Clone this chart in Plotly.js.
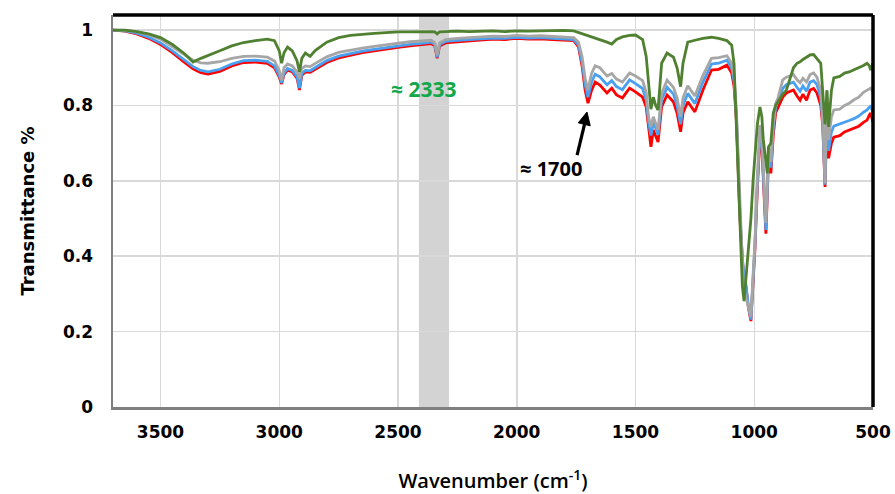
<!DOCTYPE html>
<html>
<head>
<meta charset="utf-8">
<script src="https://cdn.plot.ly/plotly-3.0.1.min.js"></script>
<style>html,body{margin:0;padding:0;background:#fff;}#chart{width:895px;height:494px;}</style>
</head>
<body>
<div id="chart"></div>
<script>
// Wavenumber (cm-1), shared by all four spectra
const wavenumber = [3700,3650,3600,3550,3500,3450,3400,3363,3330,3300,
  3250,3200,3150,3100,3050,3020,3000,2990,2980,2965,
  2945,2925,2915,2905,2890,2870,2850,2800,2750,2700,
  2650,2600,2550,2500,2450,2400,2360,2345,2335,2325,
  2300,2250,2200,2150,2100,2050,2000,1950,1900,1850,
  1800,1760,1740,1725,1712,1700,1685,1670,1650,1620,
  1600,1580,1555,1525,1500,1470,1455,1445,1435,1425,
  1415,1405,1390,1367,1340,1325,1310,1300,1280,1250,
  1216,1180,1150,1115,1095,1085,1075,1068,1060,1050,
  1043,1035,1025,1014,1005,997,987,976,968,962,
  951,945,940,930,920,910,900,880,865,850,
  835,820,807,795,780,765,750,736,720,712,
  702,697,694,687,675,665,640,620,600,580,
  560,540,525,515,510,500];

const redT = [1.000,0.997,0.990,0.978,0.962,0.940,0.915,0.897,0.887,0.883,
  0.890,0.905,0.914,0.915,0.912,0.900,0.875,0.857,0.882,0.894,
  0.889,0.872,0.841,0.880,0.889,0.888,0.895,0.914,0.926,0.934,
  0.940,0.945,0.950,0.954,0.958,0.961,0.964,0.958,0.925,0.958,
  0.966,0.969,0.971,0.974,0.976,0.975,0.978,0.976,0.977,0.975,
  0.974,0.972,0.955,0.905,0.840,0.806,0.840,0.862,0.854,0.833,
  0.846,0.828,0.820,0.846,0.836,0.822,0.796,0.740,0.690,0.735,
  0.720,0.703,0.796,0.828,0.809,0.780,0.730,0.780,0.810,0.783,
  0.841,0.894,0.896,0.907,0.886,0.850,0.760,0.640,0.500,0.390,
  0.340,0.320,0.265,0.228,0.330,0.420,0.580,0.716,0.690,0.600,
  0.460,0.560,0.660,0.620,0.720,0.780,0.795,0.822,0.833,0.838,
  0.841,0.825,0.814,0.830,0.814,0.841,0.845,0.833,0.800,0.750,
  0.584,0.700,0.727,0.660,0.700,0.716,0.720,0.730,0.735,0.740,
  0.745,0.755,0.761,0.775,0.780,0.755];

const blueT = [1.000,0.998,0.992,0.981,0.966,0.945,0.921,0.903,0.893,0.889,
  0.896,0.910,0.919,0.920,0.917,0.905,0.880,0.860,0.886,0.898,
  0.893,0.876,0.846,0.885,0.893,0.892,0.900,0.919,0.931,0.938,
  0.944,0.949,0.954,0.958,0.962,0.965,0.968,0.962,0.928,0.962,
  0.970,0.973,0.975,0.977,0.979,0.978,0.981,0.979,0.980,0.978,
  0.977,0.975,0.960,0.915,0.855,0.822,0.862,0.883,0.876,0.855,
  0.866,0.850,0.842,0.868,0.858,0.845,0.815,0.755,0.720,0.755,
  0.740,0.722,0.815,0.848,0.830,0.800,0.750,0.800,0.832,0.805,
  0.862,0.910,0.912,0.920,0.900,0.865,0.770,0.650,0.505,0.395,
  0.345,0.325,0.268,0.232,0.340,0.430,0.595,0.730,0.705,0.615,
  0.470,0.575,0.675,0.635,0.740,0.795,0.810,0.845,0.855,0.858,
  0.862,0.848,0.838,0.852,0.838,0.862,0.866,0.855,0.820,0.760,
  0.590,0.720,0.760,0.680,0.730,0.745,0.750,0.755,0.760,0.765,
  0.772,0.782,0.788,0.796,0.798,0.782];

const grayT = [1.000,0.999,0.995,0.988,0.976,0.956,0.935,0.920,0.913,0.912,
  0.916,0.925,0.930,0.931,0.928,0.918,0.893,0.866,0.900,0.910,
  0.905,0.888,0.872,0.898,0.905,0.903,0.911,0.929,0.941,0.947,
  0.952,0.957,0.961,0.966,0.969,0.971,0.973,0.966,0.933,0.966,
  0.975,0.978,0.980,0.982,0.984,0.983,0.986,0.984,0.985,0.983,
  0.982,0.980,0.968,0.930,0.872,0.841,0.885,0.905,0.900,0.878,
  0.885,0.870,0.862,0.886,0.878,0.866,0.835,0.770,0.743,0.770,
  0.752,0.735,0.832,0.867,0.848,0.820,0.770,0.820,0.852,0.825,
  0.880,0.925,0.927,0.932,0.912,0.878,0.785,0.660,0.510,0.380,
  0.310,0.290,0.265,0.240,0.350,0.440,0.610,0.748,0.720,0.630,
  0.488,0.590,0.690,0.650,0.750,0.805,0.820,0.868,0.875,0.878,
  0.882,0.868,0.860,0.872,0.862,0.882,0.886,0.875,0.840,0.770,
  0.594,0.780,0.840,0.708,0.770,0.788,0.790,0.800,0.806,0.815,
  0.822,0.835,0.841,0.846,0.846,0.835];

const greenT = [1.000,1.000,0.996,0.990,0.980,0.962,0.938,0.915,0.925,0.932,
  0.945,0.958,0.967,0.972,0.976,0.972,0.945,0.912,0.940,0.955,
  0.945,0.918,0.889,0.925,0.939,0.930,0.945,0.968,0.980,0.986,
  0.989,0.991,0.993,0.995,0.995,0.996,0.996,0.995,0.990,0.995,
  0.996,0.997,0.996,0.998,0.998,0.996,0.998,0.997,0.998,0.998,
  0.999,0.998,0.994,0.990,0.988,0.985,0.982,0.980,0.976,0.968,
  0.963,0.975,0.982,0.986,0.987,0.975,0.930,0.849,0.790,0.822,
  0.800,0.788,0.912,0.939,0.928,0.900,0.850,0.912,0.968,0.973,
  0.978,0.981,0.978,0.972,0.960,0.910,0.727,0.600,0.450,0.320,
  0.281,0.337,0.410,0.500,0.600,0.663,0.750,0.796,0.770,0.710,
  0.640,0.620,0.690,0.700,0.780,0.800,0.810,0.830,0.840,0.870,
  0.900,0.912,0.916,0.922,0.928,0.934,0.935,0.925,0.912,0.840,
  0.750,0.800,0.840,0.743,0.840,0.873,0.877,0.886,0.889,0.895,
  0.900,0.906,0.912,0.905,0.894,0.912];

const xTicks = [3500,3000,2500,2000,1500,1000,500];
const yTicks = [0,0.2,0.4,0.6,0.8,1];
const yTickText = ['0','0.2','0.4','0.6','0.8','1'];

const series = [
  {name:'red',  y:redT,  color:'#ff0000'},
  {name:'blue', y:blueT, color:'#4aa0f0'},
  {name:'gray', y:grayT, color:'#a6a6a6'},
  {name:'green',y:greenT,color:'#4f8131'}
];

const traces = series.map(s => ({
  type:'scatter', mode:'lines', x:wavenumber, y:s.y, name:s.name,
  line:{color:s.color, width:2.8}, hoverinfo:'skip'
}));

const tickFont = {family:'DejaVu Sans, Verdana, sans-serif', size:17, color:'#000', weight:'bold'};

const layout = {
  width:895, height:494,
  margin:{l:113, r:22, t:15, b:87},
  paper_bgcolor:'#fff', plot_bgcolor:'#fff',
  showlegend:false,
  xaxis:{
    range:[3700,500], tickvals:xTicks, ticktext:xTicks.map(String),
    showgrid:true, gridcolor:'#d9d9d9', gridwidth:1.5,
    zeroline:false, showline:true, linecolor:'#7f7f7f', linewidth:2.5,
    ticks:'', tickfont:tickFont, ticklabelstandoff:8,
    title:{text:'Wavenumber (cm<sup>-1</sup>)', standoff:36,
      font:{family:'Open Sans, sans-serif', size:20, color:'#000', weight:600}}
  },
  yaxis:{
    range:[0,1.04], tickvals:yTicks, ticktext:yTickText,
    showgrid:true, gridcolor:'#d9d9d9', gridwidth:1.5,
    zeroline:false, showline:true, linecolor:'#7f7f7f', linewidth:2.5,
    ticks:'', tickfont:tickFont, ticklabelstandoff:14,
    title:{text:'Transmittance %', standoff:24,
      font:{family:'DejaVu Sans, Verdana, sans-serif', size:18, color:'#000', weight:'bold'}}
  },
  shapes:[
    {type:'rect', xref:'x', yref:'paper', x0:2412, x1:2285, y0:0, y1:1,
     fillcolor:'#d3d3d3', line:{width:0}, layer:'below'},
    {type:'line', xref:'paper', yref:'paper', x0:0, x1:1, y0:1, y1:1,
     line:{color:'#000', width:3.5}},
    {type:'line', xref:'paper', yref:'paper', x0:1, x1:1, y0:0, y1:1,
     line:{color:'#000', width:3.5}},
    // arrow pointing at the ~1700 band: shaft and head
    {type:'line', xref:'x', yref:'y', x0:1746, y0:0.668, x1:1714, y1:0.752,
     line:{color:'#000', width:3.2}},
    {type:'path', xref:'x', yref:'y',
     path:'M 1704.2,0.7825 L 1690.5,0.7460 L 1741.0,0.7540 Z',
     fillcolor:'#000', line:{color:'#000', width:1}}
  ],
  annotations:[
    {x:2390, y:0.843, xref:'x', yref:'y', text:'≈ 2333', showarrow:false,
     font:{family:'Open Sans, sans-serif', size:21, color:'#12a84a', weight:'bold'}},
    {x:1856, y:0.634, xref:'x', yref:'y', text:'≈ 1700', showarrow:false,
     font:{family:'Open Sans, sans-serif', size:20, color:'#000', weight:'bold'}}
  ]
};

Plotly.newPlot('chart', traces, layout, {staticPlot:true, displayModeBar:false});
</script>
</body>
</html>
